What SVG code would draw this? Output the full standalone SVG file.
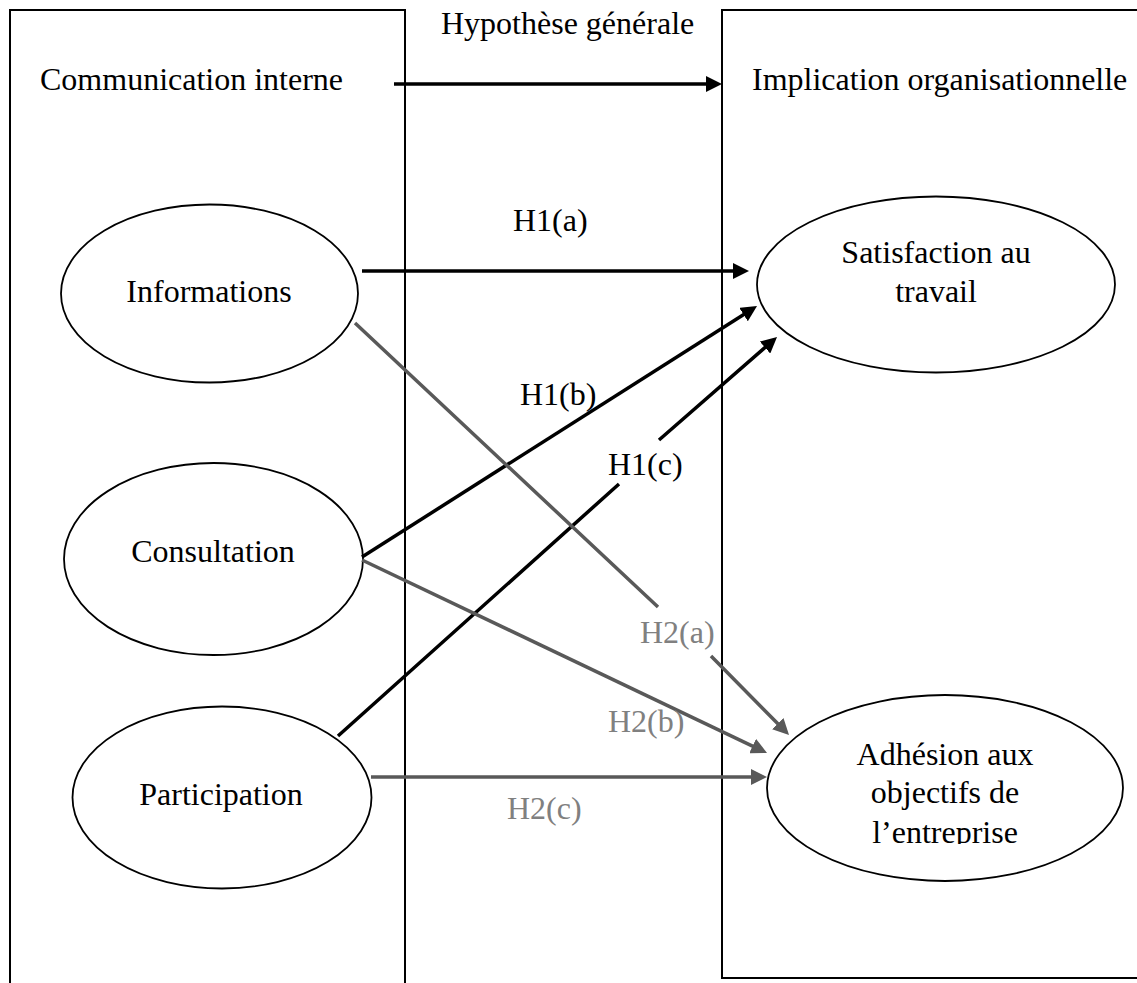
<svg xmlns="http://www.w3.org/2000/svg" width="1137" height="983" viewBox="0 0 1137 983">
<style>
  text { font-family: "Liberation Serif", "Times New Roman", serif; font-size: 32px; fill: #000; }
  .mid { text-anchor: middle; }
  .box { fill: none; stroke: #000; stroke-width: 2; }
  .node { fill: #fff; stroke: #000; stroke-width: 1.8; }
  .blk { fill: none; stroke: #000; stroke-width: 3.5; marker-end: url(#ab); }
  .gry { fill: none; stroke: #595959; stroke-width: 3.5; marker-end: url(#ag); }
  .glab { fill: #808080; }
</style>
<defs>
  <marker id="ab" viewBox="0 0 16 16" refX="4" refY="8" markerWidth="16" markerHeight="16" markerUnits="userSpaceOnUse" orient="auto">
    <path d="M0,0 L16,8 L0,16 z" fill="#000"/>
  </marker>
  <marker id="ag" viewBox="0 0 16 16" refX="4" refY="8" markerWidth="16" markerHeight="16" markerUnits="userSpaceOnUse" orient="auto">
    <path d="M0,0 L16,8 L0,16 z" fill="#595959"/>
  </marker>
  <clipPath id="clipAdh"><rect x="760" y="690" width="370" height="154"/></clipPath>
</defs>
<rect width="1137" height="983" fill="#fff"/>

<g id="box-communication">
  <rect class="box" x="10" y="10" width="395" height="1000"/>
  <text x="40" y="90">Communication interne</text>
</g>
<g id="box-implication">
  <rect class="box" x="722" y="10" width="430" height="968"/>
  <text x="752" y="90">Implication organisationnelle</text>
</g>
<g id="label-hypothese">
  <text x="441" y="34">Hypothèse générale</text>
</g>

<g id="node-informations">
  <ellipse class="node" cx="209.5" cy="293.5" rx="148.5" ry="89"/>
  <text class="mid" x="209" y="302">Informations</text>
</g>
<g id="node-consultation">
  <ellipse class="node" cx="213.5" cy="559" rx="149.5" ry="96"/>
  <text class="mid" x="213" y="562">Consultation</text>
</g>
<g id="node-participation">
  <ellipse class="node" cx="222" cy="797.5" rx="149.5" ry="91"/>
  <text class="mid" x="221" y="805">Participation</text>
</g>
<g id="node-satisfaction">
  <ellipse class="node" cx="936" cy="284.5" rx="179" ry="88"/>
  <text class="mid" x="936" y="263">Satisfaction au</text>
  <text class="mid" x="936" y="302">travail</text>
</g>
<g id="node-adhesion">
  <ellipse class="node" cx="945" cy="788" rx="178" ry="93"/>
  <g clip-path="url(#clipAdh)">
    <text class="mid" x="945" y="765">Adhésion aux</text>
    <text class="mid" x="945" y="803">objectifs de</text>
    <text class="mid" x="945" y="843">l’entreprise</text>
  </g>
</g>

<g id="connectors">
  <path class="blk" d="M394,84 L710,84"/>
  <path class="blk" d="M362,271 L737,271"/>
  <path class="blk" d="M362,557 L746.9,312.4"/>
  <path class="blk" d="M338,736 L619,484 M659,440 L768,344.9"/>
  <path class="gry" d="M355,323 L658,607 M711,656 L780.6,726.5"/>
  <path class="gry" d="M362,560 L756.2,747.8"/>
  <path class="gry" d="M371,777 L755,777"/>
</g>

<g id="connector-labels">
  <text x="513" y="231">H1(a)</text>
  <text x="520" y="405">H1(b)</text>
  <text x="608" y="475">H1(c)</text>
  <text class="glab" x="640" y="643">H2(a)</text>
  <text class="glab" x="608" y="732">H2(b)</text>
  <text class="glab" x="507" y="819">H2(c)</text>
</g>
</svg>
